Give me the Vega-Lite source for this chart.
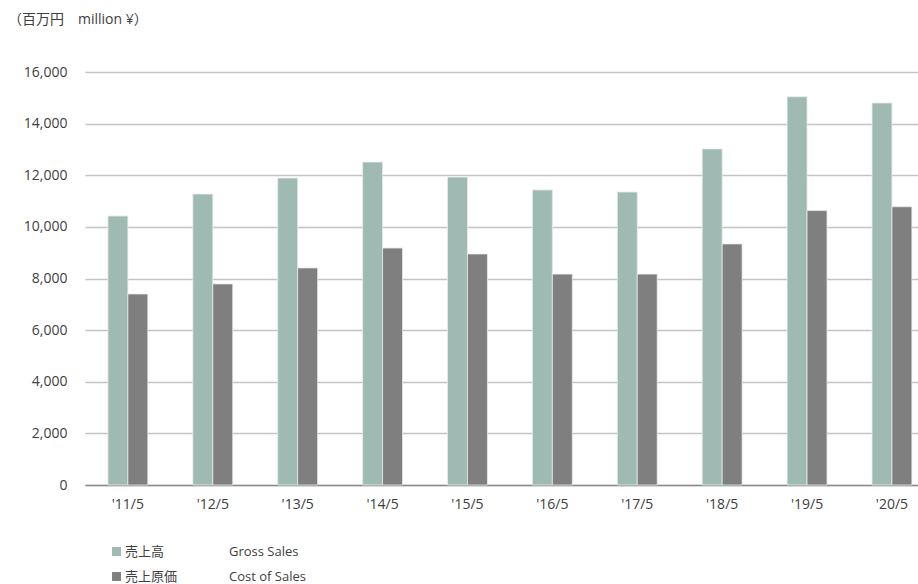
{
  "$schema": "https://vega.github.io/schema/vega-lite/v6.json",
  "width": 833,
  "height": 413,
  "autosize": "none",
  "padding": {"left": 85, "top": 72, "right": 0, "bottom": 99},
  "background": "white",
  "title": {
    "text": "（百万円\u3000million ¥）",
    "anchor": "start",
    "frame": "group",
    "orient": "top",
    "dx": -77,
    "offset": 38,
    "fontSize": 14,
    "fontWeight": "normal",
    "color": "#404040",
    "font": "Open Sans, Noto Sans CJK JP"
  },
  "data": {
    "values": [
      {"year": "'11/5", "type": "売上高", "value": 10420},
      {"year": "'11/5", "type": "売上原価", "value": 7400},
      {"year": "'12/5", "type": "売上高", "value": 11270},
      {"year": "'12/5", "type": "売上原価", "value": 7790},
      {"year": "'13/5", "type": "売上高", "value": 11890},
      {"year": "'13/5", "type": "売上原価", "value": 8410},
      {"year": "'14/5", "type": "売上高", "value": 12510},
      {"year": "'14/5", "type": "売上原価", "value": 9180},
      {"year": "'15/5", "type": "売上高", "value": 11930},
      {"year": "'15/5", "type": "売上原価", "value": 8950},
      {"year": "'16/5", "type": "売上高", "value": 11430},
      {"year": "'16/5", "type": "売上原価", "value": 8170},
      {"year": "'17/5", "type": "売上高", "value": 11350},
      {"year": "'17/5", "type": "売上原価", "value": 8170},
      {"year": "'18/5", "type": "売上高", "value": 13020},
      {"year": "'18/5", "type": "売上原価", "value": 9340},
      {"year": "'19/5", "type": "売上高", "value": 15040},
      {"year": "'19/5", "type": "売上原価", "value": 10630},
      {"year": "'20/5", "type": "売上高", "value": 14800},
      {"year": "'20/5", "type": "売上原価", "value": 10780}
    ]
  },
  "mark": {"type": "bar", "stroke": "#e4ecea", "strokeWidth": 0.8},
  "encoding": {
    "x": {
      "field": "year",
      "type": "nominal",
      "sort": null,
      "title": null,
      "scale": {"paddingInner": 0.53, "paddingOuter": 0.171, "align": 0.79},
      "axis": {
        "labelAngle": 0,
        "ticks": false,
        "domainColor": "#8c8c8c",
        "domainWidth": 1.5,
        "labelFontSize": 14,
        "labelColor": "#404040",
        "labelFont": "Open Sans",
        "labelPadding": 12
      }
    },
    "xOffset": {"field": "type", "type": "nominal", "sort": ["売上高", "売上原価"], "scale": {"paddingInner": 0, "paddingOuter": 0}},
    "y": {
      "field": "value",
      "type": "quantitative",
      "title": null,
      "scale": {"domain": [0, 16000], "nice": false},
      "axis": {
        "values": [0, 2000, 4000, 6000, 8000, 10000, 12000, 14000, 16000],
        "format": ",.0f",
        "domain": false,
        "ticks": false,
        "gridColor": "#c4c4c4",
        "gridWidth": 1.5,
        "labelFontSize": 14,
        "labelColor": "#404040",
        "labelFont": "Open Sans",
        "labelPadding": 18
      }
    },
    "color": {
      "field": "type",
      "type": "nominal",
      "sort": ["売上高", "売上原価"],
      "scale": {"domain": ["売上高", "売上原価"], "range": ["#9fbab2", "#7f7f7f"]},
      "legend": {
        "title": null,
        "orient": "none",
        "legendX": 25,
        "legendY": 473,
        "direction": "vertical",
        "symbolType": "square",
        "symbolSize": 80,
        "symbolStrokeWidth": 0,
        "symbolOffset": 0,
        "labelFontSize": 13,
        "labelColor": "#404040",
        "labelFont": "Open Sans, Noto Sans CJK JP",
        "labelOffset": 2,
        "rowPadding": 11,
        "labelLimit": 400,
        "labelExpr": "datum.label == '売上高' ? '売上高\u3000\u3000\u3000\u3000\u3000Gross Sales' : '売上原価\u3000\u3000\u3000\u3000Cost of Sales'"
      }
    }
  },
  "config": {"view": {"stroke": null}}
}
